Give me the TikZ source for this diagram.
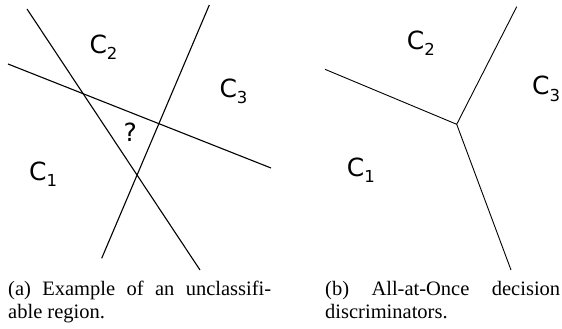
\documentclass[tikz,border=0pt]{standalone}
\usepackage{fontspec}
\setmainfont{Liberation Serif}
\newfontfamily\labfont{DejaVu Sans}
\usepackage{tikz}

% klasa z indeksem dolnym
\newcommand{\cls}[1]{C\raisebox{-6pt}{\fontsize{16.5}{18}\selectfont #1}}

\begin{document}
\begin{tikzpicture}[
  x=1pt, y=-1pt,
  lab/.style={font=\labfont\fontsize{25}{30}\selectfont, inner sep=0pt, anchor=base west},
  podpis/.style={font=\fontsize{20.5}{22.5}\selectfont, inner sep=0pt, anchor=base west, align=left},
  granica/.style={line width=1.1pt},
  granicab/.style={line width=0.9pt},
]
\useasboundingbox (0,0) rectangle (562,329);
% (a) trzy proste, obszar nieklasyfikowalny
\coordinate (a1) at (27,9);      \coordinate (a2) at (200,270);
\coordinate (b1) at (209.3,5);   \coordinate (b2) at (101.7,258.3);
\coordinate (c1) at (8,64);      \coordinate (c2) at (271,168);
\draw[granica] (a1) -- (a2);
\draw[granica] (b1) -- (b2);
\draw[granica] (c1) -- (c2);
\node[lab] (k2a) at (89.3,53.3) {\cls{2}};
\node[lab] (k3a) at (219.3,97.3) {\cls{3}};
\node[lab] (k1a) at (29,180) {\cls{1}};
\node[lab] (pyt) at (123.3,141.7) {?};
% (b) granice All-at-Once
\coordinate (srodek) at (456.7,124.3);
\coordinate (lewy) at (325,69.3);
\coordinate (gora) at (516.7,6.7);
\coordinate (dol) at (511,270);
\draw[granicab] (lewy) -- (srodek) -- (gora);
\draw[granicab] (srodek) -- (dol);
\node[lab] (k2b) at (406.7,49.3) {\cls{2}};
\node[lab] (k3b) at (532,95) {\cls{3}};
\node[lab] (k1b) at (346.7,176.7) {\cls{1}};
% podpisy (base = druga linia)
\node[podpis] (podpa) at (8,318) {\makebox[263pt][s]{(a) Example of an unclassifi-}\\able region.};
\node[podpis] (podpb) at (325,318) {\makebox[235pt][s]{(b) All-at-Once decision}\\discriminators.};
\end{tikzpicture}
\end{document}
